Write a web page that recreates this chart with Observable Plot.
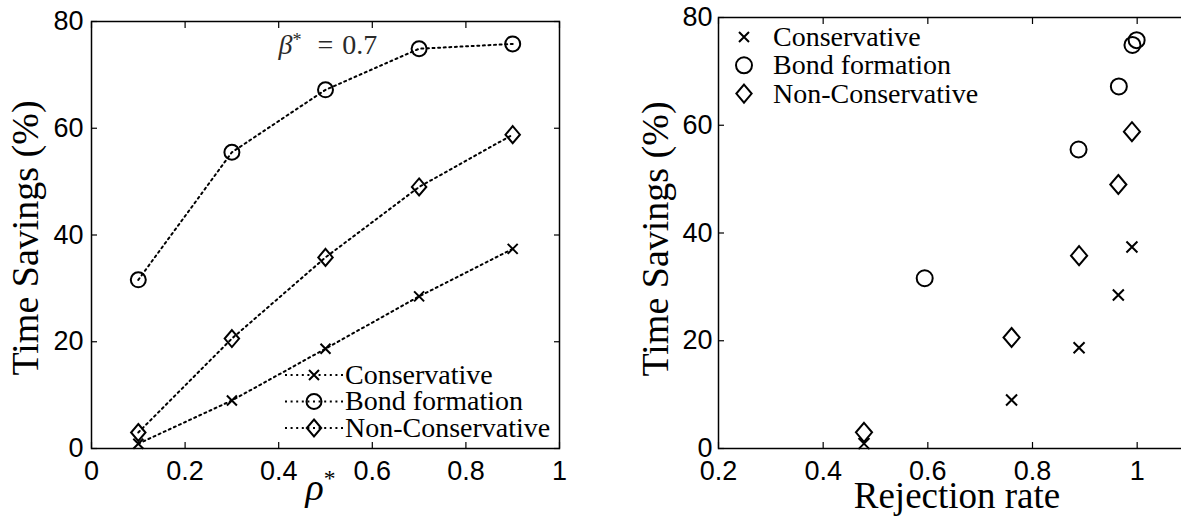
<!DOCTYPE html>
<html><head><meta charset="utf-8">
<script src="https://cdn.jsdelivr.net/npm/d3@7"></script>
<script src="https://cdn.jsdelivr.net/npm/@observablehq/plot@0.6"></script>
<style>
body{margin:0;background:#fff;}
#wrap{position:relative;width:1181px;height:519px;overflow:hidden;background:#fff;}
#wrap svg{position:absolute;top:0;}
</style></head><body><div id="wrap"></div>
<script>
// ---- data ----
const seriesNames = ["Conservative", "Bond formation", "Non-Conservative"];
const rhoStar = [0.1, 0.3, 0.5, 0.7, 0.9];
const conservative = [0.9, 9.0, 18.7, 28.5, 37.4];
const bondFormation = [31.6, 55.5, 67.2, 74.9, 75.8];
const nonConservative = [3.0, 20.6, 35.8, 49.0, 58.8];
const rejConservative = [0.478, 0.760, 0.889, 0.964, 0.990];
const rejBondFormation = [0.594, 0.888, 0.965, 0.991, 0.999];
const rejNonConservative = [0.478, 0.760, 0.889, 0.964, 0.990];
const xTicksLeft = [0, 0.2, 0.4, 0.6, 0.8, 1];
const xTicksRight = [0.2, 0.4, 0.6, 0.8, 1];
const yTicks = [0, 20, 40, 60, 80];
const yLabel = "Time Savings (%)";
const xLabelLeft = "ρ*";
const xLabelRight = "Rejection rate";
const annotation = "β* = 0.7";

// ---- symbols ----
const symTimes = {draw(c, s){const r = Math.sqrt(s/Math.PI); c.moveTo(-r,-r); c.lineTo(r,r); c.moveTo(-r,r); c.lineTo(r,-r);}};
const symCircle = {draw(c, s){const r = Math.sqrt(s/Math.PI); c.moveTo(r,0); c.arc(0,0,r,0,2*Math.PI); c.closePath();}};
const symDiamond = {draw(c, s){const r = Math.sqrt(s/Math.PI), w = 0.85*r; c.moveTo(0,-r); c.lineTo(w,0); c.lineTo(0,r); c.lineTo(-w,0); c.closePath();}};
const symbols = [symTimes, symCircle, symDiamond];

const serif = "'Liberation Serif', 'Times New Roman', serif";
const sans = "'Liberation Sans', Arial, sans-serif";
const fmt = d => String(d);
const TK = 6; // inward tick length

function rows(xs, ys){ return xs.map((x,i) => ({x, y: ys[i]})); }

function axes(xTicks, xPad, yPad, withRight){
  const blank = () => "";
  const m = [
    Plot.axisX({ticks: xTicks, tickSize: 0, tickPadding: xPad, tickFormat: fmt, label: null, fontSize: 27, fontFamily: sans}),
    Plot.axisX({ticks: xTicks, tickSize: TK, dy: -TK, tickFormat: blank, label: null, strokeWidth: 1.2}),
    Plot.axisX({anchor: "top", ticks: xTicks, tickSize: TK, dy: TK, tickFormat: blank, label: null, strokeWidth: 1.2}),
    Plot.axisY({ticks: yTicks, tickSize: 0, tickPadding: yPad, tickFormat: fmt, label: null, fontSize: 27, fontFamily: sans}),
    Plot.axisY({ticks: yTicks, tickSize: TK, dx: TK, tickFormat: blank, label: null, strokeWidth: 1.2})
  ];
  if (withRight) m.push(Plot.axisY({anchor: "right", ticks: yTicks, tickSize: TK, dx: -TK, tickFormat: blank, label: null, strokeWidth: 1.2}));
  return m;
}

// ---- left panel ----
const L = {width: 600, height: 519, ml: 91, mt: 21, mr: 41, mb: 71};
const leftSeries = [conservative, bondFormation, nonConservative];
const leftR = [5, 7.5, 8.5];
const leftPlot = Plot.plot({
  width: L.width, height: L.height,
  marginLeft: L.ml, marginTop: L.mt, marginRight: L.mr, marginBottom: L.mb,
  style: {fontFamily: sans, fontSize: "27px", color: "black", background: "transparent", overflow: "visible"},
  x: {domain: [0, 1]},
  y: {domain: [0, 80]},
  marks: [
    ...axes(xTicksLeft, 12, 8, true),
    ...leftSeries.map(ys => Plot.line(rows(rhoStar, ys), {x: "x", y: "y", stroke: "black", strokeWidth: 2, strokeDasharray: "2,3.6"})),
    ...leftSeries.map((ys, k) => Plot.dot(rows(rhoStar, ys), {x: "x", y: "y", symbol: symbols[k], r: leftR[k], fill: "none", stroke: "black", strokeWidth: 2})),
    Plot.frame({stroke: "black", strokeWidth: 1.5}),
    Plot.text([yLabel], {text: d => d, frameAnchor: "left", textAnchor: "middle", rotate: -90, dx: -54, dy: 3, lineAnchor: "bottom", fontFamily: serif, fontSize: 38}),
    Plot.text([xLabelLeft], {text: d => d, frameAnchor: "bottom", textAnchor: "middle", dx: -5, dy: 51, lineAnchor: "bottom", fontFamily: serif, fontSize: 38}),
    Plot.text([annotation], {text: d => d, frameAnchor: "top-left", textAnchor: "start", dx: 187, dy: 32, lineAnchor: "bottom", fontFamily: serif, fontSize: 28, fill: "#2a2a2a"})
  ]
});

// ---- right panel ----
const R = {left: 600, width: 589, ml: 118, mt: 17, mr: 0, mb: 71};
const rightX = [rejConservative, rejBondFormation, rejNonConservative];
const rightR = [5.5, 8, 9.5];
const rightPlot = Plot.plot({
  width: R.width, height: 519,
  marginLeft: R.ml, marginTop: R.mt, marginRight: R.mr, marginBottom: R.mb,
  style: {fontFamily: sans, fontSize: "27px", color: "black", background: "transparent", overflow: "visible"},
  x: {domain: [0.2, 1.1]},
  y: {domain: [0, 80]},
  marks: [
    ...axes(xTicksRight, 12, 6, false),
    ...rightX.map((xs, k) => Plot.dot(rows(xs, leftSeries[k]), {x: "x", y: "y", symbol: symbols[k], r: rightR[k], fill: "none", stroke: "black", strokeWidth: 2})),
    Plot.frame({stroke: "black", strokeWidth: 1.5}),
    Plot.text([yLabel], {text: d => d, frameAnchor: "left", textAnchor: "middle", rotate: -90, dx: -51, dy: 6, lineAnchor: "bottom", fontFamily: serif, fontSize: 38}),
    Plot.text([xLabelRight], {text: d => d, frameAnchor: "bottom", textAnchor: "middle", dx: 3, dy: 59, lineAnchor: "bottom", fontFamily: serif, fontSize: 37})
  ]
});

const wrap = document.getElementById("wrap");
leftPlot.style.left = "0px";
rightPlot.style.left = R.left + "px";
wrap.appendChild(leftPlot);
wrap.appendChild(rightPlot);

// math-style text
function mathify(svg){
  d3.select(svg).selectAll("text").each(function(){
    const t = this.textContent;
    if (t === xLabelLeft) {
      this.innerHTML = '<tspan font-style="italic">ρ</tspan><tspan font-size="62%" baseline-shift="60%">*</tspan>';
    } else if (t === annotation) {
      this.innerHTML = '<tspan font-style="italic">β</tspan><tspan font-size="65%" baseline-shift="45%">*</tspan><tspan dx="16">=</tspan><tspan dx="9">0.7</tspan>';
    }
  });
}
mathify(leftPlot);

// legends
function legend(svg, cfg){
  const g = d3.select(svg).append("g");
  seriesNames.forEach((name, k) => {
    const y = cfg.y0 + k*cfg.dy;
    if (cfg.line) {
      g.append("line").attr("x1", cfg.mx - cfg.half).attr("x2", cfg.mx + cfg.half).attr("y1", y).attr("y2", y)
        .attr("stroke", "black").attr("stroke-width", 2).attr("stroke-dasharray", "2,3.6");
    }
    g.append("path").attr("transform", `translate(${cfg.mx},${y})`)
      .attr("d", d3.symbol(symbols[k], cfg.r[k]*cfg.r[k]*Math.PI)())
      .attr("fill", "none").attr("stroke", "black").attr("stroke-width", 2);
    g.append("text").attr("x", cfg.tx).attr("y", y).attr("dy", "0.32em").attr("text-anchor", "start")
      .attr("font-family", serif).attr("font-size", 28).attr("fill", "black").text(name);
  });
}
legend(leftPlot, {mx: L.width - L.mr - 245, tx: L.width - L.mr - 214, half: 29, y0: L.height - L.mb - 73, dy: 26.5, r: [5, 7.5, 8.5], line: true});
legend(rightPlot, {mx: R.ml + 26, tx: R.ml + 55, y0: R.mt + 20, dy: 28.3, r: [5, 8, 9], line: false});
</script></body></html>
